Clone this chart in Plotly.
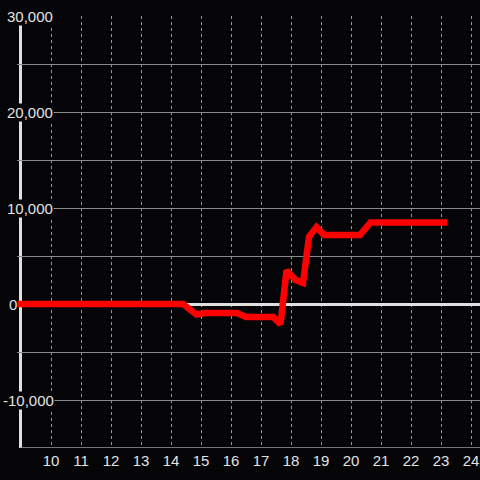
import plotly.graph_objects as go

# Data
hours = [8.8, 14.4, 14.85, 15.15, 16.2, 16.5, 17.4, 17.65, 17.85, 18.15, 18.4, 18.6, 18.85, 19.1, 20.3, 20.65, 23.2]
values = [0, 0, -1100, -950, -950, -1350, -1350, -2100, 3500, 2500, 2200, 7000, 8000, 7200, 7200, 8500, 8500]

x_ticks = list(range(10, 25))
y_grid = list(range(-15000, 30001, 5000))
y_label_vals = [30000, 20000, 10000, 0, -10000]
y_label_text = ["30,000", "20,000", "10,000", "0", "-10,000"]

BG = "#050508"
TXT = "#e2e2e2"
FONT = "Liberation Sans, Arial, sans-serif"
FS = 15

L, R, T, B = 17, 0, 16, 32
W = 480 - L - R

fig = go.Figure()
fig.add_trace(go.Scatter(
    x=hours, y=values, mode="lines",
    line=dict(color="#ff0000", width=6.5),
    hoverinfo="skip", showlegend=False,
))

def px_to_paper(p):
    return (p - L) / W

# y axis line
fig.add_shape(type="line", xref="paper", yref="y",
              x0=px_to_paper(20.5), x1=px_to_paper(20.5), y0=29170, y1=-15000,
              line=dict(color="#e0e0e0", width=3), layer="below")
# x axis line
fig.add_shape(type="line", xref="paper", yref="y",
              x0=px_to_paper(20), x1=1, y0=-15000, y1=-15000,
              line=dict(color="#9a9a9a", width=1.5), layer="below")

left_px = {"30,000": 6, "20,000": 6, "10,000": 6, "0": 8, "-10,000": 2}
for v, t in zip(y_label_vals, y_label_text):
    fig.add_annotation(
        x=px_to_paper(left_px[t]), xref="paper", xanchor="left",
        y=v, yref="y", yanchor="middle",
        text=t, showarrow=False, bgcolor=BG, borderpad=0,
        font=dict(size=FS, color=TXT, family=FONT),
    )

fig.update_layout(
    width=480, height=480,
    margin=dict(l=L, r=R, t=T, b=B),
    paper_bgcolor=BG, plot_bgcolor=BG,
    font=dict(family=FONT, size=FS, color=TXT),
    xaxis=dict(
        range=[10 - (51 - L) / 30, 24.3],
        tickmode="array", tickvals=x_ticks, ticktext=[str(v) for v in x_ticks],
        showgrid=True, gridcolor="#969696", gridwidth=1, griddash="3px,3px",
        zeroline=False, showline=False, ticks="",
        tickfont=dict(size=FS, color=TXT, family=FONT),
        ticklabelstandoff=2, ticklabeloverflow="allow",
    ),
    yaxis=dict(
        range=[-15000, 30000.5],
        tickmode="array", tickvals=y_grid, showticklabels=False,
        showgrid=True, gridcolor="#8a8a8a", gridwidth=1,
        zeroline=True, zerolinecolor="#e0e0e0", zerolinewidth=3,
        showline=False, ticks="",
    ),
)

fig.write_html(
    "out.html",
    config={"displayModeBar": False, "staticPlot": True},
    post_script="document.body.style.margin='0';document.body.style.background='#050508';",
)
